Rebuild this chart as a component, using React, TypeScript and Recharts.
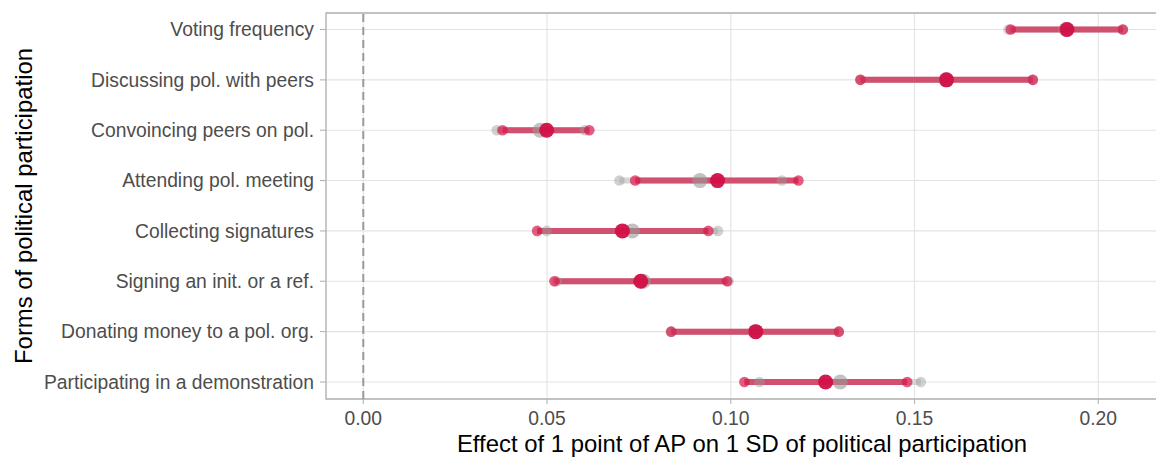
import React from 'react';
import {
  ScatterChart,
  Scatter,
  XAxis,
  YAxis,
  CartesianGrid,
  ReferenceLine,
  ReferenceArea,
  ErrorBar,
  Label,
} from 'recharts';

const categories = [
  'Voting frequency',
  'Discussing pol. with peers',
  'Convoincing peers on pol.',
  'Attending pol. meeting',
  'Collecting signatures',
  'Signing an init. or a ref.',
  'Donating money to a pol. org.',
  'Participating in a demonstration',
];

const redLow = [0.1762, 0.1353, 0.0379, 0.074, 0.0473, 0.052, 0.0838, 0.1037];
const redEst = [0.1915, 0.1587, 0.0499, 0.0964, 0.0705, 0.0755, 0.1068, 0.1258];
const redHigh = [0.2067, 0.1822, 0.0615, 0.1184, 0.0939, 0.099, 0.1294, 0.148];

const grayLow = [0.1756, 0.1352, 0.0363, 0.0697, 0.0499, 0.0526, 0.0837, 0.1078];
const grayEst = [0.1912, 0.1586, 0.0481, 0.0916, 0.0732, 0.0762, 0.1067, 0.1298];
const grayHigh = [0.2066, 0.1821, 0.0603, 0.1139, 0.0965, 0.0994, 0.1293, 0.1517];

const xTicks = [0, 0.05, 0.1, 0.15, 0.2];
const yTicks = categories.map((_, i) => i);

const X_DOMAIN: [number, number] = [-0.01015, 0.2168];
const Y_DOMAIN: [number, number] = [-0.328, 7.338];

const FONT = '"Liberation Sans", Arial, Helvetica, sans-serif';

const RED_LINE = '#d1506f';
const GRAY_LINE = '#d6d6d6';
const RED_END = '#d8174a';
const RED_PT = '#d20f46';
const GRAY = '#9a9a9a';

const buildRows = (lo: number[], est: number[], hi: number[]) =>
  est.map((e, i) => ({ x: e, y: i, err: [e - lo[i], hi[i] - e] }));
const buildEnds = (lo: number[], hi: number[]) => [
  ...lo.map((v, i) => ({ x: v, y: i })),
  ...hi.map((v, i) => ({ x: v, y: i })),
];

const redRows = buildRows(redLow, redEst, redHigh);
const grayRows = buildRows(grayLow, grayEst, grayHigh);
const redEnds = buildEnds(redLow, redHigh);
const grayEnds = buildEnds(grayLow, grayHigh);

const dot = (r: number, fill: string, opacity: number) => (p: any) => (
  <circle cx={p.cx} cy={p.cy} r={r} fill={fill} fillOpacity={opacity} stroke="none" />
);
const empty = () => <g />;

export default function App() {
  return (
    <div style={{ position: 'absolute', left: 0, top: 0, width: 1156, height: 457, overflow: 'hidden', background: '#fff' }}>
      <ScatterChart
        width={1160}
        height={457}
        margin={{ top: 13, right: 0, bottom: 0, left: 0 }}
        style={{ fontFamily: FONT }}
      >
        <CartesianGrid stroke="#e3e3e3" strokeWidth={1.1} />
        <XAxis
          type="number"
          dataKey="x"
          domain={X_DOMAIN}
          allowDataOverflow
          ticks={xTicks}
          tickFormatter={(v: number) => v.toFixed(2)}
          height={58}
          axisLine={false}
          tickLine={{ stroke: '#b3b3b3', strokeWidth: 1.1 }}
          tickSize={5}
          tickMargin={7}
          tick={{ fill: '#4d4d4d', fontSize: 19.3, fontFamily: FONT }}
        >
          <Label
            position="insideBottom"
            content={(props: any) => {
              const vb = props.viewBox;
              return (
                <text
                  x={vb.x + vb.width / 2 - 1}
                  y={vb.y + vb.height - 5.5}
                  textAnchor="middle"
                  fontSize={23.9}
                  fill="#000"
                  fontFamily={FONT}
                >
                  Effect of 1 point of AP on 1 SD of political participation
                </text>
              );
            }}
          />
        </XAxis>
        <YAxis
          type="number"
          dataKey="y"
          domain={Y_DOMAIN}
          allowDataOverflow
          reversed
          ticks={yTicks}
          interval={0}
          tickFormatter={(v: number) => categories[v] ?? ''}
          width={326}
          axisLine={false}
          tickLine={{ stroke: '#b3b3b3', strokeWidth: 1.1 }}
          tickSize={6}
          tickMargin={6}
          tick={{ fill: '#4d4d4d', fontSize: 19.3, fontFamily: FONT }}
        >
          <Label
            position="insideLeft"
            content={(props: any) => {
              const vb = props.viewBox;
              const cx = 31.5;
              const cy = vb.y + vb.height / 2;
              return (
                <text
                  x={cx}
                  y={cy}
                  transform={`rotate(-90, ${cx}, ${cy})`}
                  textAnchor="middle"
                  fontSize={23.9}
                  fill="#000"
                  fontFamily={FONT}
                >
                  Forms of political participation
                </text>
              );
            }}
          />
        </YAxis>
        <ReferenceArea
          x1={X_DOMAIN[0]}
          x2={X_DOMAIN[1]}
          y1={Y_DOMAIN[0]}
          y2={Y_DOMAIN[1]}
          fill="none"
          fillOpacity={0}
          stroke="#b3b3b3"
          strokeWidth={1.3}
          ifOverflow="visible"
        />
        <ReferenceLine x={0} stroke="#9a9a9a" strokeWidth={2} strokeDasharray="8 5" />

        <Scatter data={grayRows} shape={empty} isAnimationActive={false}>
          <ErrorBar dataKey="err" direction="x" width={0} stroke={GRAY_LINE} strokeWidth={6} isAnimationActive={false} />
        </Scatter>
        <Scatter data={redRows} shape={empty} isAnimationActive={false}>
          <ErrorBar dataKey="err" direction="x" width={0} stroke={RED_LINE} strokeWidth={6} isAnimationActive={false} />
        </Scatter>
        <Scatter data={grayEnds} shape={dot(5.3, GRAY, 0.45)} isAnimationActive={false} />
        <Scatter data={grayRows} shape={dot(7.5, GRAY, 0.6)} isAnimationActive={false} />
        <Scatter data={redEnds} shape={dot(5.3, RED_END, 0.7)} isAnimationActive={false} />
        <Scatter data={redRows} shape={dot(7.5, RED_PT, 0.95)} isAnimationActive={false} />
      </ScatterChart>
    </div>
  );
}
